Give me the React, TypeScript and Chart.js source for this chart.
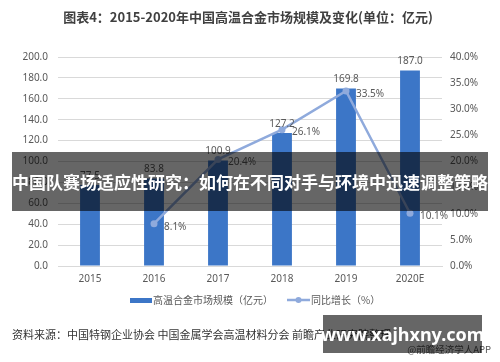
import React, { useEffect, useRef } from "react";
import { Chart, registerables } from "chart.js";

Chart.register(...registerables);

const categories = ["2015", "2016", "2017", "2018", "2019", "2020E"];
const marketSize = [77.5, 83.8, 100.9, 127.2, 169.8, 187.0];
const growthRate = [null, 8.1, 20.4, 26.1, 33.5, 10.1];
const leftTicks = { min: 0, max: 200, step: 20 };
const rightTicks = { min: 0, max: 40, step: 5 };

const titleText = "图表4：2015-2020年中国高温合金市场规模及变化(单位：亿元)";
const barLegend = "高温合金市场规模（亿元）";
const lineLegend = "同比增长（%）";
const sourceText = "资料来源：中国特钢企业协会 中国金属学会高温材料分会 前瞻产业研究院整理";
const appText = "@前瞻经济学人APP";
const bannerText = "中国队赛场适应性研究：如何在不同对手与环境中迅速调整策略";
const watermarkText = "www.xajhxny.com";

const BAR_COLOR = "#3C76C7";
const LINE_COLOR = "#8FAADC";
const TEXT_COLOR = "#595959";
const FONT = "'Noto Sans', 'Noto Sans CJK SC', sans-serif";
const CJK = "'Noto Sans CJK SC', 'Noto Sans', sans-serif";

const decorPlugin = {
  id: "decor",
  afterDraw(chart: any) {
    const ctx = chart.ctx;
    ctx.save();
    // title
    ctx.fillStyle = "#404040";
    ctx.font = `bold 13px ${CJK}`;
    ctx.textAlign = "center";
    ctx.textBaseline = "middle";
    ctx.fillText(titleText, 248, 17);

    // data labels bars
    ctx.font = `10px ${FONT}`;
    ctx.fillStyle = TEXT_COLOR;
    const barMeta = chart.getDatasetMeta(0);
    barMeta.data.forEach((el: any, i: number) => {
      ctx.textAlign = "center";
      ctx.fillText(marketSize[i].toFixed(1), el.x, el.y - 9);
    });
    const lineMeta = chart.getDatasetMeta(1);
    lineMeta.data.forEach((el: any, i: number) => {
      const v = growthRate[i];
      if (v === null || v === undefined) return;
      ctx.textAlign = "left";
      ctx.fillText(v.toFixed(1) + "%", el.x + 10, el.y + 3);
    });

    // legend
    ctx.fillStyle = BAR_COLOR;
    ctx.fillRect(130, 298, 22, 5);
    ctx.fillStyle = TEXT_COLOR;
    ctx.font = `10px ${CJK}`;
    ctx.textAlign = "left";
    ctx.fillText(barLegend, 153, 300);
    ctx.strokeStyle = LINE_COLOR;
    ctx.lineWidth = 2.5;
    ctx.beginPath();
    ctx.moveTo(287, 300);
    ctx.lineTo(310, 300);
    ctx.stroke();
    ctx.fillStyle = LINE_COLOR;
    ctx.beginPath();
    ctx.arc(298.5, 300, 3, 0, Math.PI * 2);
    ctx.fill();
    ctx.fillStyle = TEXT_COLOR;
    ctx.fillText(lineLegend, 311, 300);

    // source
    ctx.fillStyle = "#333333";
    ctx.font = `11px ${CJK}`;
    ctx.fillText(sourceText, 12, 335);
    ctx.fillStyle = "#555555";
    ctx.font = `9.5px ${CJK}`;
    ctx.textAlign = "right";
    ctx.fillText(appText, 491, 349);
    ctx.restore();
  },
};

export default function App() {
  const ref = useRef<HTMLCanvasElement>(null);
  useEffect(() => {
    document.body.style.margin = "0";
    const chart = new Chart(ref.current as HTMLCanvasElement, {
      type: "bar",
      data: {
        labels: categories,
        datasets: [
          {
            type: "bar",
            label: barLegend,
            data: marketSize,
            backgroundColor: BAR_COLOR,
            yAxisID: "y",
            order: 1,
            barPercentage: 0.31,
            categoryPercentage: 1,
          } as any,
          {
            type: "line",
            label: lineLegend,
            data: growthRate,
            borderColor: LINE_COLOR,
            backgroundColor: LINE_COLOR,
            borderWidth: 2.5,
            pointRadius: 3.5,
            pointBackgroundColor: LINE_COLOR,
            pointBorderWidth: 0,
            yAxisID: "y1",
            order: 0,
            tension: 0,
            spanGaps: false,
          } as any,
        ],
      },
      options: {
        animation: false,
        responsive: false,
        events: [],
        layout: { padding: { top: 57, bottom: 72, left: 0, right: 0 } },
        plugins: {
          legend: { display: false },
          title: { display: false },
          tooltip: { enabled: false },
        },
        scales: {
          x: {
            grid: { display: false, drawTicks: false },
            border: { display: true, color: "#d9d9d9" },
            ticks: { color: TEXT_COLOR, font: { size: 10, family: FONT }, padding: 7 },
            afterFit: (s: any) => {
              s.height = 24;
            },
          },
          y: {
            position: "left",
            min: leftTicks.min,
            max: leftTicks.max,
            grid: { color: "#d9d9d9", drawTicks: false },
            border: { display: false },
            ticks: {
              stepSize: leftTicks.step,
              color: TEXT_COLOR,
              font: { size: 10, family: FONT },
              padding: 10,
              callback: (v: any) => Number(v).toFixed(1),
            },
            afterFit: (s: any) => {
              s.width = 58;
            },
          },
          y1: {
            position: "right",
            min: rightTicks.min,
            max: rightTicks.max,
            grid: { display: false, drawTicks: false },
            border: { display: false },
            ticks: {
              stepSize: rightTicks.step,
              color: TEXT_COLOR,
              font: { size: 10, family: FONT },
              padding: 8,
              callback: (v: any) => Number(v).toFixed(1) + "%",
            },
            afterFit: (s: any) => {
              s.width = 58;
            },
          },
        },
      } as any,
      plugins: [decorPlugin],
    });
    return () => chart.destroy();
  }, []);

  return (
    <div style={{ position: "absolute", left: 0, top: 0, width: 500, height: 362, background: "#fff", overflow: "hidden" }}>
      <canvas ref={ref} width={500} height={362} style={{ display: "block" }} />
      <div
        style={{
          position: "absolute",
          left: 12,
          top: 152,
          width: 476,
          height: 59,
          background: "rgba(0,0,0,0.6)",
          color: "#fff",
          fontFamily: CJK,
          fontWeight: "bold",
          fontSize: 17,
          display: "flex",
          alignItems: "center",
          justifyContent: "center",
          whiteSpace: "nowrap",
        }}
      >
        {bannerText}
      </div>
      <div
        style={{
          position: "absolute",
          left: 323,
          top: 315,
          width: 159,
          height: 38,
          background: "rgba(0,0,0,0.6)",
          color: "#fff",
          fontFamily: "'Noto Sans', 'DejaVu Sans', sans-serif",
          fontWeight: "bold",
          fontSize: 18,
          display: "flex",
          alignItems: "center",
          justifyContent: "center",
          whiteSpace: "nowrap",
        }}
      >
        {watermarkText}
      </div>
    </div>
  );
}
